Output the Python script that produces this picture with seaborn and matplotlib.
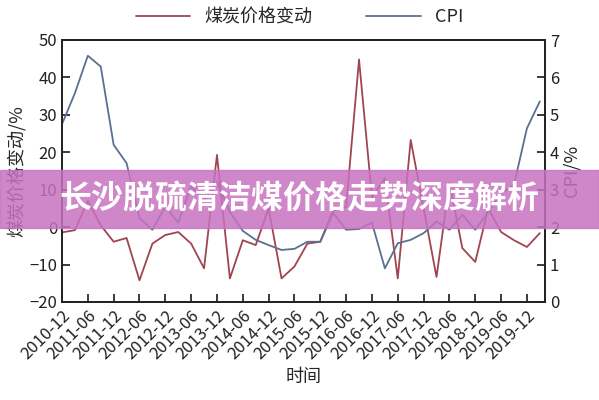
import pandas as pd
import matplotlib.pyplot as plt
import seaborn as sns

sns.set_theme(style="ticks")
plt.rcParams['font.family'] = ['Noto Sans CJK SC', 'DejaVu Sans']

# quarterly data, 2010-12 .. 2020-03
coal = [-1.4, -0.8, 7, 0.5, -3.9, -2.9, -14.2, -4.4, -2.1, -1.3,
        -4.4, -11, 19.3, -13.7, -3.5, -4.8, 5, -13.7, -10.5, -4.4,
        -3.9, 4.5, 5.4, 44.8, 8, 13, -13.7, 23.3, 5, -13.3,
        11.8, -5.6, -9.3, 5, -1.3, -3.5, -5.3, -1.6]
cpi = [4.75, 5.58, 6.58, 6.29, 4.2, 3.71, 2.24, 1.93, 2.55, 2.12,
       3.1, 2.7, 3.2, 2.4, 1.9, 1.66, 1.52, 1.39, 1.42, 1.61,
       1.61, 2.38, 1.93, 1.95, 2.12, 0.9, 1.57, 1.66, 1.84, 2.15,
       1.93, 2.33, 1.93, 2.4, 2.9, 3.13, 4.64, 5.36]
tick_labels = [f"{y}-{m}" for y in range(2010, 2020) for m in ("06", "12")][1:]

df = pd.DataFrame({"i": range(len(coal)), "coal": coal, "cpi": cpi})
red, blue = "#a0454f", "#5a7090"

fig = plt.figure(figsize=(5.99, 4.0), dpi=100)
ax = fig.add_axes([62/599, 1-302/400, (545-62)/599, (302-40)/400])
sns.lineplot(data=df, x="i", y="coal", ax=ax, color=red, lw=1.3, label="煤炭价格变动", legend=False)
ax2 = ax.twinx()
sns.lineplot(data=df, x="i", y="cpi", ax=ax2, color=blue, lw=1.3, label="CPI", legend=False)

ax.set_xlim(0, len(coal) - 0.6)
ax.set_ylim(-20, 50)
ax2.set_ylim(0, 7)
ax.set_xticks(range(0, 2 * len(tick_labels), 2))
ax.set_xticklabels(tick_labels, rotation=45, ha="right", rotation_mode="anchor")
ax.set_yticks(range(-20, 51, 10))
ax2.set_yticks(range(0, 8))
for a in (ax, ax2):
    a.tick_params(direction="in", labelsize=12, colors="#222")
    for s in a.spines.values():
        s.set_color("#222")
ax.set_xlabel("时间", fontsize=13)
ax.set_ylabel("煤炭价格变动/%", fontsize=13, labelpad=2)
ax2.set_ylabel("CPI/%", fontsize=13, labelpad=2)

h1, l1 = ax.get_legend_handles_labels()
h2, l2 = ax2.get_legend_handles_labels()
fig.legend(h1 + h2, l1 + l2, loc="upper center", bbox_to_anchor=(0.5, 1.02), ncol=2,
           frameon=False, fontsize=13, handlelength=3, columnspacing=3)

fig.patches.append(plt.Rectangle((0, 1-228/400), 1, 58/400, transform=fig.transFigure,
                                 color="#c772c0", alpha=0.85, zorder=10))
fig.text(0.5, 1-200/400, "长沙脱硫清洁煤价格走势深度解析", ha="center", va="center",
         color="white", fontsize=23, fontweight="bold", zorder=11)

fig.savefig("out.png", dpi=100)
